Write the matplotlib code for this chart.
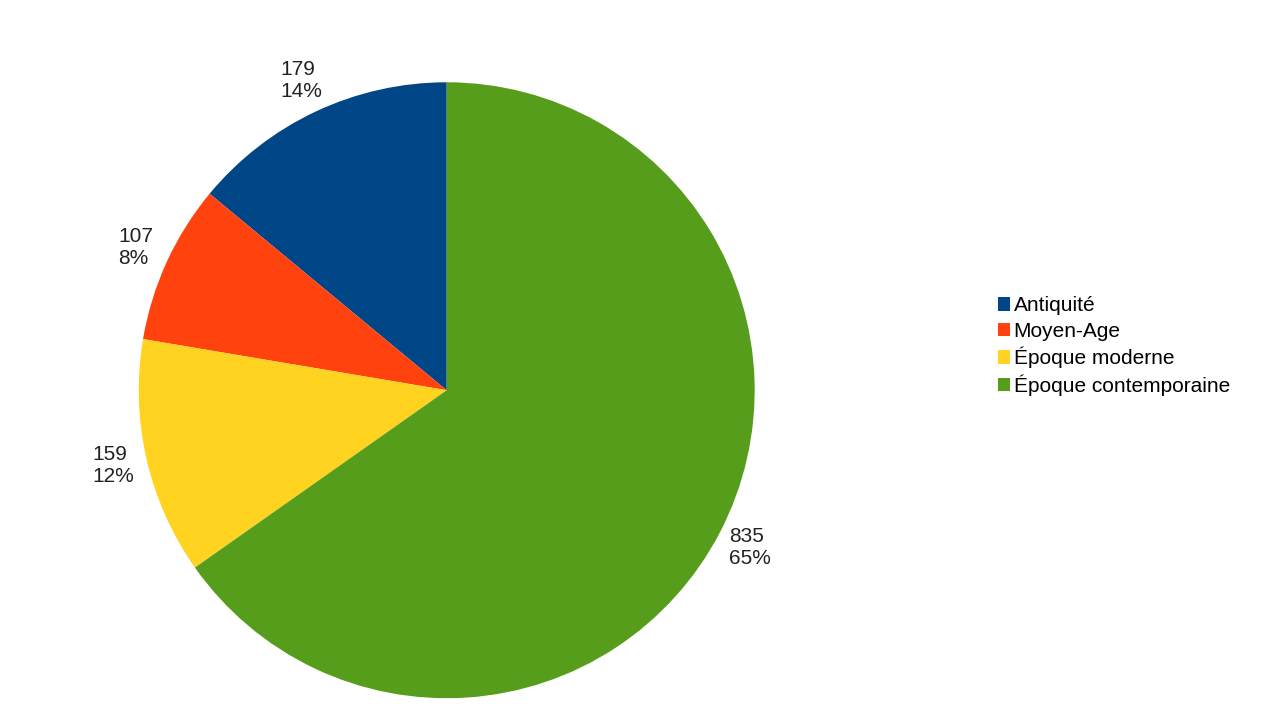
import matplotlib.pyplot as plt

plt.rcParams['font.family'] = ['Liberation Sans', 'DejaVu Sans']

periods = ["Antiquité", "Moyen-Age", "Époque moderne", "Époque contemporaine"]
counts = [179, 107, 159, 835]
colors = ["#004586", "#ff420e", "#ffd320", "#579d1c"]

total = sum(counts)
labels = [f"{c}\n{round(100 * c / total)}%" for c in counts]

fig = plt.figure(figsize=(12.8, 7.2), dpi=100)
ax = fig.add_axes([0.349 - 0.2406, 0.458 - 0.4278, 0.4812, 0.8556])
wedges, texts = ax.pie(counts, colors=colors, startangle=90, counterclock=True,
                       labels=labels, labeldistance=1.11,
                       textprops={"fontsize": 15, "color": "#222222"})
for t in texts:
    t.set_ha("center")
    t.set_multialignment("left")
ax.set_aspect("equal")
ax.set_xlim(-1, 1)
ax.set_ylim(-1, 1)

fig.legend(wedges, periods, loc="center left", bbox_to_anchor=(0.765, 0.519),
           frameon=False, fontsize=15, handlelength=0.6, handleheight=0.6,
           handletextpad=0.15, labelspacing=0.3)

fig.savefig("out.png", dpi=100)
